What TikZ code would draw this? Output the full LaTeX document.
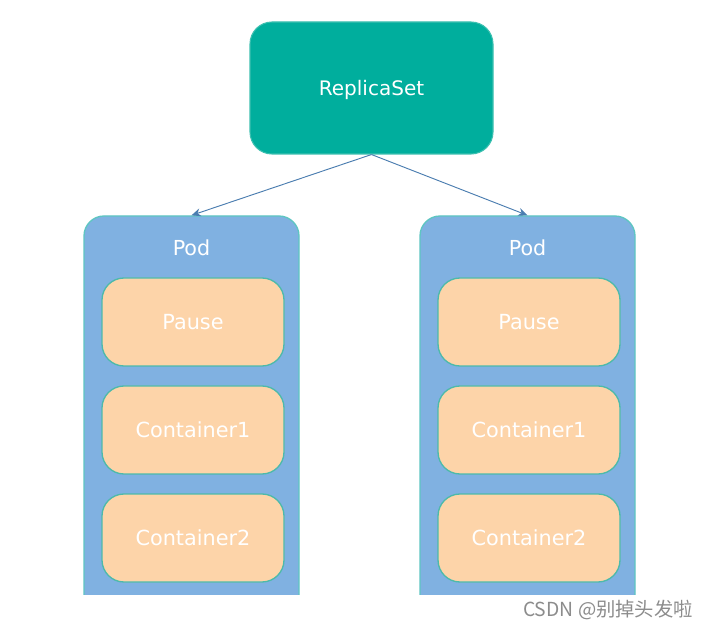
\documentclass[tikz,border=0pt]{standalone}
\usepackage{fontspec}
\setmainfont{DejaVu Sans}
\newfontfamily\cjk{Noto Sans CJK SC}
\usetikzlibrary{arrows.meta}
\definecolor{rsteal}{HTML}{00AE9D}
\definecolor{rsedge}{HTML}{3CC0B0}
\definecolor{podfill}{HTML}{80B1E1}
\definecolor{podedge}{HTML}{5EC6C2}
\definecolor{boxfill}{HTML}{FDD4A9}
\definecolor{boxedge}{HTML}{4DBAAA}
\definecolor{arrowc}{HTML}{4A7DB0}
\definecolor{wmgray}{HTML}{8C8C8C}
\begin{document}
\begin{tikzpicture}[x=0.75pt,y=-0.75pt,
  rsbox/.style={rounded corners=16.5pt, fill=rsteal, draw=rsedge, line width=0.8pt,
    text=white, font=\fontsize{15}{18}\selectfont, text height=15.3pt, text depth=3.5pt,
    minimum width=182.25pt, minimum height=99pt, inner sep=0pt},
  podbox/.style={rounded corners=15pt, fill=podfill, draw=podedge, line width=1pt,
    minimum width=161.25pt, minimum height=303pt, inner sep=0pt},
  podlabel/.style={text=white, font=\fontsize{15.5}{18}\selectfont, inner sep=0pt},
  ctbox/.style={rounded corners=16.5pt, fill=boxfill, draw=boxedge, line width=1pt,
    text=white, font=\fontsize{15.6}{18}\selectfont,
    minimum width=136.5pt, minimum height=66pt, inner sep=0pt},
  link/.style={draw=arrowc, line width=0.7pt, -{Stealth[length=7pt,width=6pt]}},
  wmark/.style={text=wmgray, font=\cjk\fontsize{14.5}{17}\selectfont, inner sep=0pt}
]
\useasboundingbox (0,0) rectangle (710,630);
\fill[white] (0,0) rectangle (710,630);

\node[rsbox] (rs) at (371.5,88) {ReplicaSet};

\begin{scope}
  \clip (0,0) rectangle (710,594);
  \node[podbox] (pod1) at (191.5,418) {};
  \node[podbox] (pod2) at (527.5,418) {};
  \node[podlabel] (pl1) at (191.5,248) {Pod};
  \node[podlabel] (pl2) at (527.5,248) {Pod};
  \node[ctbox] (pa1) at (193,322) {Pause};
  \node[ctbox] (ca1) at (193,430) {Container1};
  \node[ctbox] (cb1) at (193,538) {Container2};
  \node[ctbox] (pa2) at (529,322) {Pause};
  \node[ctbox] (ca2) at (529,430) {Container1};
  \node[ctbox] (cb2) at (529,538) {Container2};
\end{scope}

\draw[link] (rs.south) -- (pod1.north);
\draw[link] (rs.south) -- (pod2.north);

\node[wmark] (wm) at (608,610) {CSDN @别掉头发啦};
\end{tikzpicture}
\end{document}
